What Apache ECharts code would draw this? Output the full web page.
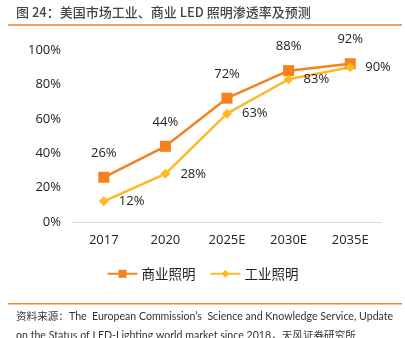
<!DOCTYPE html>
<html><head><meta charset="utf-8">
<script src="https://cdn.jsdelivr.net/npm/echarts@6/dist/echarts.min.js"></script>
<style>html,body{margin:0;padding:0;background:#fff}#c{width:405px;height:338px}</style>
</head><body><div id="c"></div>
<script>
const categories = ['2017','2020','2025E','2030E','2035E'];
const commercial = [26,44,72,88,92];
const industrial = [12,28,63,83,90];
const yTicks = [0,20,40,60,80,100];
const titleText = '图 24：美国市场工业、商业 LED 照明渗透率及预测';
const sourceLine1 = '资料来源：The  European Commission’s  Science and Knowledge Service, Update';
const sourceLine2 = 'on the Status of LED-Lighting world market since 2018，天风证券研究所';

const font = '"Open Sans","Noto Sans CJK SC",sans-serif';
const chart = echarts.init(document.getElementById('c'));
chart.setOption({
  animation:false,
  textStyle:{fontFamily:font},
  graphic:[
    {type:'text',left:16,top:6,style:{text:titleText,font:'500 13px "Noto Sans CJK SC",sans-serif',fill:'#444'}},
    {type:'rect',shape:{x:8,y:24,width:394,height:2},style:{fill:'#F5A05A'}},
    {type:'rect',shape:{x:8,y:303,width:394,height:1.5},style:{fill:'#F58A2A'}},
    {type:'text',left:16,top:311,style:{text:sourceLine1,font:'10.6px Lato,"Noto Sans CJK SC",sans-serif',fill:'#333'}},
    {type:'text',left:16,top:330,style:{text:sourceLine2,font:'10.6px Lato,"Noto Sans CJK SC",sans-serif',fill:'#333'}}
  ],
  grid:{left:73,right:24,top:50,bottom:116},
  legend:{
    top:262,left:'center',itemGap:14,itemWidth:30,itemHeight:10,
    textStyle:{fontSize:13.5,color:'#222',fontFamily:'"Noto Sans CJK SC",sans-serif',padding:[0,0,0,-1]},
    data:['商业照明','工业照明']
  },
  xAxis:{
    type:'category',data:categories,boundaryGap:true,
    axisLine:{lineStyle:{color:'#D9D9D9',width:1}},axisTick:{show:false},
    axisLabel:{color:'#222',fontSize:13,margin:12,fontFamily:font}
  },
  yAxis:{
    type:'value',min:0,max:100,interval:20,
    axisLabel:{formatter:'{value}%',color:'#222',fontSize:13,margin:12,fontFamily:font},
    splitLine:{show:false},axisLine:{show:false},axisTick:{show:false}
  },
  series:[
    {name:'商业照明',type:'line',data:commercial,symbol:'rect',symbolSize:11,
     itemStyle:{color:'#F58220'},lineStyle:{color:'#F58220',width:2.5},
     label:{show:true,position:'top',distance:12,formatter:'{c}%',color:'#222',fontSize:13,fontFamily:font}},
    {name:'工业照明',type:'line',data:industrial,symbol:'diamond',symbolSize:10,
     itemStyle:{color:'#FDB827'},lineStyle:{color:'#FDB827',width:2.5},
     label:{show:true,position:'right',distance:10,formatter:'{c}%',color:'#222',fontSize:13,fontFamily:font}}
  ]
});
</script></body></html>
